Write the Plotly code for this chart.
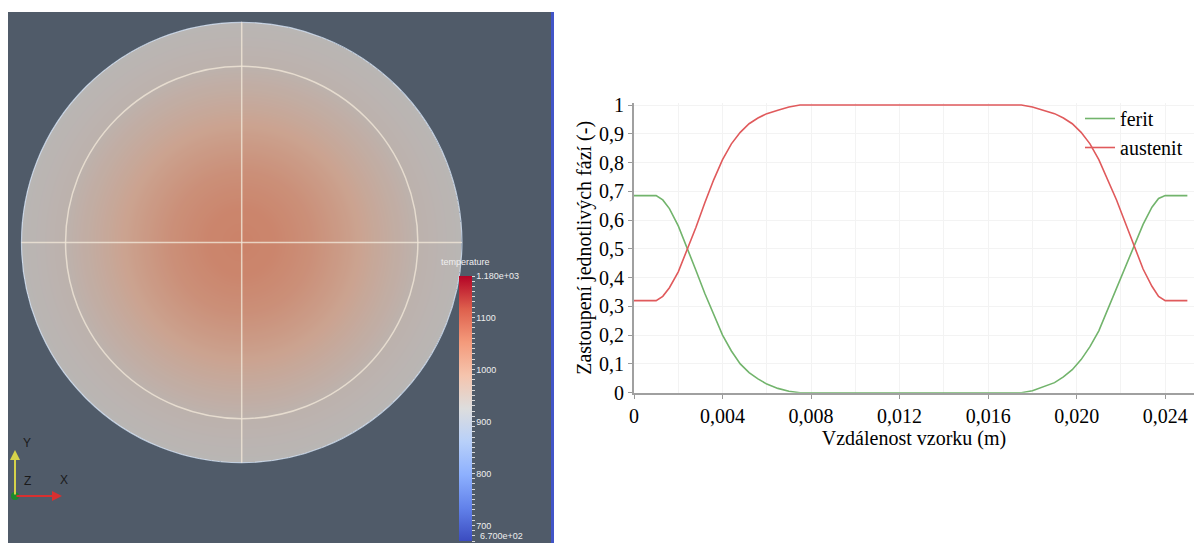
import numpy as np
import plotly.graph_objects as go

W, H = 1203, 543

# ---------------- data: phase fractions along the sample ----------------
distance = [0, 0.0010, 0.0013, 0.0016, 0.0020, 0.0024, 0.0028, 0.0032, 0.0036, 0.0040,
            0.0044, 0.0048, 0.0052, 0.0056, 0.0060, 0.0065, 0.0070, 0.0075, 0.0125, 0.0175,
            0.0180, 0.0185, 0.0190, 0.0194, 0.0198, 0.0202, 0.0206, 0.0210, 0.0214, 0.0218,
            0.0222, 0.0226, 0.0230, 0.0234, 0.0237, 0.0240, 0.0250]
ferit = [0.685, 0.685, 0.67, 0.64, 0.58, 0.505, 0.425, 0.345, 0.27, 0.20,
         0.145, 0.10, 0.07, 0.048, 0.03, 0.015, 0.005, 0.0, 0.0, 0.0,
         0.007, 0.02, 0.035, 0.055, 0.08, 0.115, 0.16, 0.215, 0.29, 0.36,
         0.44, 0.51, 0.585, 0.645, 0.675, 0.685, 0.685]
austenit = [0.32, 0.32, 0.335, 0.365, 0.42, 0.495, 0.575, 0.66, 0.74, 0.81,
            0.865, 0.905, 0.935, 0.955, 0.97, 0.982, 0.993, 1.0, 1.0, 1.0,
            0.993, 0.982, 0.97, 0.955, 0.935, 0.905, 0.865, 0.81, 0.74, 0.67,
            0.59, 0.51, 0.43, 0.37, 0.335, 0.32, 0.32]

x_tickvals = [0, 0.004, 0.008, 0.012, 0.016, 0.020, 0.024]
x_ticktext = ["0", "0,004", "0,008", "0,012", "0,016", "0,020", "0,024"]
y_tickvals = [0, 0.1, 0.2, 0.3, 0.4, 0.5, 0.6, 0.7, 0.8, 0.9, 1.0]
y_ticktext = ["0", "0,1", "0,2", "0,3", "0,4", "0,5", "0,6", "0,7", "0,8", "0,9", "1"]

# ---------------- data: temperature field of the sample cross-section ----------------
sample_radius = 0.0125
ring_radius = 0.010
profile_r = [0.0, 0.002, 0.004, 0.006, 0.008, 0.010, 0.0125]
profile_t = [1048, 1041, 1024, 998, 968, 942, 930]
t_min, t_max = 670, 1180
cbar_labels_val = [1180, 1100, 1000, 900, 800, 700]
cbar_labels_txt = ["1.180e+03", "1100", "1000", "900", "800", "700"]
cbar_min_label = "6.700e+02"

cool_warm = [[0.0, "rgb(59,76,192)"], [0.125, "rgb(98,130,234)"], [0.25, "rgb(141,176,254)"],
             [0.375, "rgb(184,208,249)"], [0.5, "rgb(221,221,221)"], [0.625, "rgb(245,196,173)"],
             [0.75, "rgb(244,154,123)"], [0.875, "rgb(222,96,77)"], [1.0, "rgb(180,4,38)"]]

def px(x):
    return x / W

def py(y):
    return 1 - y / H

# layout geometry (pixels)
L_left, L_right, L_top = 8, 551, 12
disc_cx, disc_cy, disc_rpx = 241.7, 242.5, 220.2
scale = disc_rpx / sample_radius  # px per metre

grid = np.linspace(-sample_radius, sample_radius, 441)
GX, GY = np.meshgrid(grid, grid)
RR = np.sqrt(GX ** 2 + GY ** 2)
Z = np.interp(RR, profile_r, profile_t)
Z[RR > sample_radius] = np.nan

cb_ticks = list(range(670, 1181, 10))
cb_text = []
for v in cb_ticks:
    cb_text.append(cbar_labels_txt[cbar_labels_val.index(v)] if v in cbar_labels_val else "")

SERIF = "'Liberation Serif', 'DejaVu Serif', serif"
SANS = "Liberation Sans, Arial, sans-serif"

fig = go.Figure()

fig.add_trace(go.Heatmap(
    x=grid, y=grid, z=Z, xaxis="x2", yaxis="y2",
    colorscale=cool_warm, zmin=t_min, zmax=t_max, hoverinfo="skip",
    showscale=True,
    colorbar=dict(
        x=px(458.5), xanchor="left", xpad=0, y=py(276), yanchor="top", ypad=0,
        lenmode="pixels", len=265, thicknessmode="pixels", thickness=13,
        outlinewidth=0, ticks="outside", ticklen=3, tickwidth=1, tickcolor="#d8d8d8",
        tickmode="array", tickvals=cb_ticks, ticktext=cb_text,
        tickfont=dict(family=SANS, size=9, color="#eeeeee"),
    ),
))

fig.add_trace(go.Scatter(x=distance, y=ferit, name="ferit", mode="lines",
                         line=dict(color="#72b46c", width=1.6)))
fig.add_trace(go.Scatter(x=distance, y=austenit, name="austenit", mode="lines",
                         line=dict(color="#e05a5c", width=1.6)))

fig.update_layout(
    width=W, height=H, margin=dict(l=0, r=0, t=0, b=0, pad=0, autoexpand=False),
    paper_bgcolor="white", plot_bgcolor="white",
    font=dict(family=SERIF, color="black"),
    xaxis=dict(domain=[px(634), px(1194)], range=[0, 0.0253],
               tickmode="array", tickvals=x_tickvals, ticktext=x_ticktext,
               tickfont=dict(family=SERIF, size=20, color="black"),
               ticks="outside", ticklen=4, tickcolor="#999",
               showline=True, linecolor="#a0a0a0", linewidth=2,
               showgrid=True, gridcolor="#f3f3f3", gridwidth=1,
               minor=dict(dtick=0.002, tick0=0, showgrid=True, gridcolor="#f3f3f3"),
               zeroline=False, automargin=False,
               title=dict(text="Vzdálenost vzorku (m)", font=dict(family=SERIF, size=20, color="black"),
                          standoff=2)),
    yaxis=dict(domain=[py(392.7), py(103)], range=[0, 1.007],
               tickmode="array", tickvals=y_tickvals, ticktext=y_ticktext,
               tickfont=dict(family=SERIF, size=20, color="black"),
               ticks="outside", ticklen=4, tickcolor="#999",
               ticklabelstandoff=0,
               showline=True, linecolor="#a0a0a0", linewidth=2,
               showgrid=True, gridcolor="#f3f3f3", zeroline=False, automargin=False,
               title=dict(text="Zastoupení jednotlivých fází (-)",
                          font=dict(family=SERIF, size=20, color="black"), standoff=2)),
    xaxis2=dict(domain=[px(L_left), px(L_right)],
                range=[(L_left - disc_cx) / scale, (L_right - disc_cx) / scale],
                visible=False, anchor="y2"),
    yaxis2=dict(domain=[0, py(L_top)],
                range=[(disc_cy - H) / scale, (disc_cy - L_top) / scale],
                visible=False, anchor="x2"),
    legend=dict(x=px(1080), y=py(99), xanchor="left", yanchor="top",
                bgcolor="rgba(0,0,0,0)", font=dict(family=SERIF, size=20, color="black"),
                tracegroupgap=0, itemwidth=30),
    showlegend=True,
)

shapes = []
shapes.append(dict(type="rect", xref="paper", yref="paper", x0=px(L_left), x1=px(L_right),
                   y0=0, y1=py(L_top), fillcolor="#505b69", line=dict(width=0), layer="below"))
shapes.append(dict(type="line", xref="paper", yref="paper", x0=px(552.5), x1=px(552.5),
                   y0=0, y1=py(L_top), line=dict(color="#4155c8", width=3)))
shapes.append(dict(type="circle", xref="x2", yref="y2", x0=-sample_radius, x1=sample_radius,
                   y0=-sample_radius, y1=sample_radius, fillcolor="rgba(0,0,0,0.17)",
                   line=dict(color="rgba(205,218,235,0.9)", width=1.2)))
lc = "rgba(240,230,215,0.8)"
shapes.append(dict(type="circle", xref="x2", yref="y2", x0=-ring_radius, x1=ring_radius,
                   y0=-ring_radius, y1=ring_radius, line=dict(color=lc, width=1.5)))
shapes.append(dict(type="line", xref="x2", yref="y2", x0=0, x1=0,
                   y0=-sample_radius, y1=sample_radius, line=dict(color=lc, width=1.5)))
shapes.append(dict(type="line", xref="x2", yref="y2", x0=-sample_radius, x1=sample_radius,
                   y0=0, y1=0, line=dict(color=lc, width=1.5)))
shapes.append(dict(type="circle", xref="paper", yref="paper", x0=px(11), x1=px(19),
                   y0=py(500), y1=py(492), fillcolor="#1c8a2c", line=dict(width=0)))
fig.update_layout(shapes=shapes)

annotations = [
    dict(text="temperature", xref="paper", yref="paper", x=px(465), y=py(262),
         showarrow=False, font=dict(family=SANS, size=9, color="#f0f0f0")),
    dict(text=cbar_min_label, xref="paper", yref="paper", x=px(478), y=py(536),
         xanchor="left", yanchor="middle", showarrow=False,
         font=dict(family=SANS, size=9, color="#eeeeee")),
    dict(text="", xref="paper", yref="paper", x=px(15), y=py(450), ax=0, ay=46,
         axref="pixel", ayref="pixel", showarrow=True, arrowhead=2, arrowsize=1,
         arrowwidth=2, arrowcolor="#d6d24a"),
    dict(text="", xref="paper", yref="paper", x=px(62), y=py(496), ax=-47, ay=0,
         axref="pixel", ayref="pixel", showarrow=True, arrowhead=2, arrowsize=1,
         arrowwidth=2, arrowcolor="#d83030"),
    dict(text="Y", xref="paper", yref="paper", x=px(21), y=py(452), showarrow=False,
         font=dict(family=SANS, size=12, color="#1a1a1a")),
    dict(text="Z", xref="paper", yref="paper", x=px(22), y=py(490), showarrow=False,
         font=dict(family=SANS, size=12, color="#1a1a1a")),
    dict(text="X", xref="paper", yref="paper", x=px(58), y=py(489), showarrow=False,
         font=dict(family=SANS, size=12, color="#1a1a1a")),
]
fig.update_layout(annotations=annotations)

fig.write_html("out.html")
